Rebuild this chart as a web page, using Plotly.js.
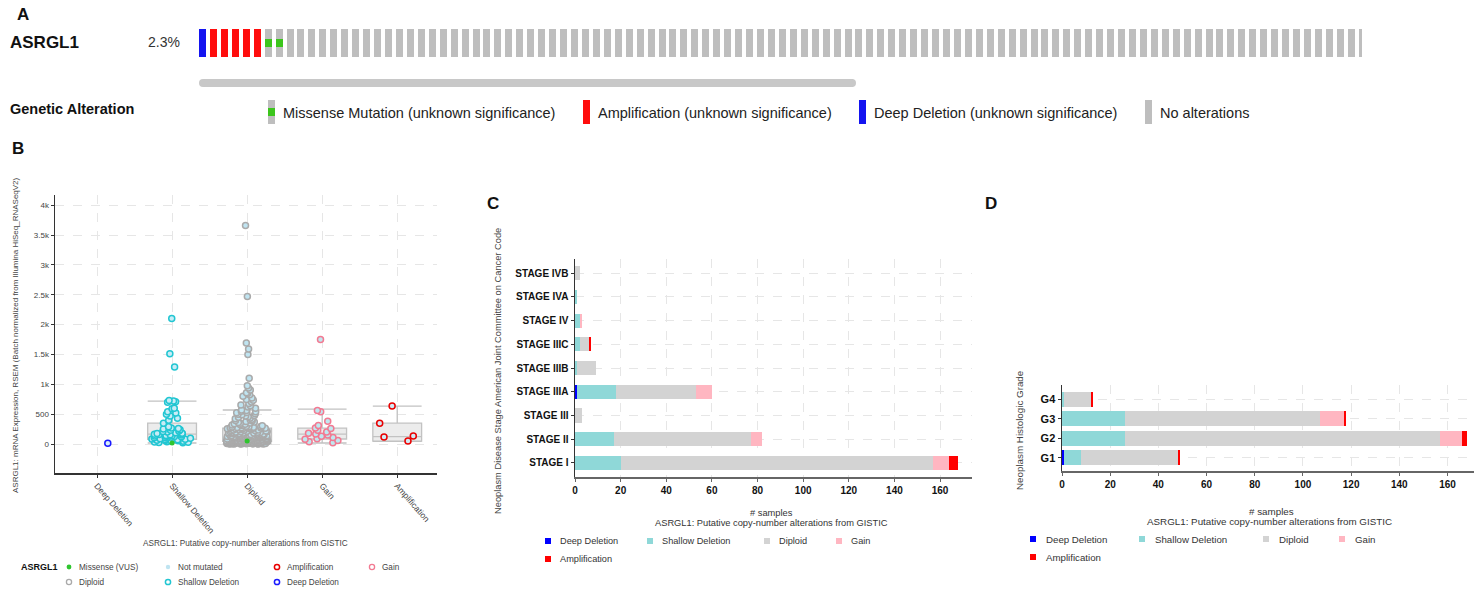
<!DOCTYPE html>
<html><head><meta charset="utf-8">
<script src="https://cdn.plot.ly/plotly-3.0.1.min.js"></script>
<style>html,body{margin:0;padding:0;background:#fff}#chart{width:1474px;height:592px}</style>
</head><body><div id="chart"></div>
<script>
// ================= DATA =================
// Panel A – oncoprint
const oncoGene = 'ASRGL1';
const oncoPct = '2.3%';
const oncoTypes = ['Deep Deletion', 'Amplification', 'Missense Mutation', 'No alterations'];
const oncoCounts = [1, 5, 2, 99];
const oncoLegendLabels = ['Missense Mutation (unknown significance)', 'Amplification (unknown significance)', 'Deep Deletion (unknown significance)', 'No alterations'];

// Panel B – expression by copy number
const cnaCats = ['Deep Deletion', 'Shallow Deletion', 'Diploid', 'Gain', 'Amplification'];
const exprDeep = [15];
const exprShallow = [2100, 1510, 1290, 730, 720, 710, 700, 600, 590, 540, 520, 500, 470, 430, 400,
  350, 290, 270, 260, 250, 240, 230, 220, 210, 200, 190, 180, 175, 170,
  165, 160, 155, 150, 145, 140, 135, 130, 125, 120, 115, 110, 105, 100, 95, 90, 85, 80, 75, 70,
  65, 60, 55, 50, 45, 40, 35, 30, 25, 20];
const exprDiploid = [3660, 2470, 1690, 1590, 1500, 1100, 975, 940, 905, 860, 845, 825, 800, 770, 745, 735, 705, 680, 655, 640, 620, 600,
  570, 563, 548, 541, 530, 522, 508, 497, 489, 476, 468, 455, 447, 438, 425, 416, 404, 396, 388, 379,
  367, 361, 352, 347, 339, 332, 324, 318, 311, 306, 299, 293, 288, 284, 281, 277, 274, 272, 270, 269, 267, 266, 265, 265,
  262, 258, 254, 249, 246, 241, 237, 233, 229, 226, 222, 218, 215, 211, 208, 204, 201, 198, 195, 192,
  189, 186, 183, 180, 178, 175, 172, 170, 167, 165, 162, 160, 158, 156, 154, 152, 150, 148, 146, 144,
  142, 140, 139, 137, 136, 134, 133, 131, 130, 129, 128, 127, 126, 125, 124, 123, 122, 121, 120, 120,
  119, 119, 118, 118, 117, 117,
  116, 115, 113, 112, 110, 109, 107, 106, 104, 103, 101, 100, 98, 97, 95, 94, 92, 91, 89, 88,
  86, 85, 83, 82, 81, 79, 78, 77, 75, 74, 73, 71, 70, 69, 68, 66, 65, 64, 63, 62,
  61, 60, 59, 58, 57, 56, 55, 55, 54, 53, 52, 52, 51, 50, 49, 49, 48, 48, 47, 47, 46, 46, 45, 45, 45,
  44, 44, 43, 43, 42, 41, 41, 40, 39, 39, 38, 37, 36, 36, 35, 34, 33, 33, 32, 31,
  30, 30, 29, 28, 27, 27, 26, 25, 24, 24, 23, 22, 21, 21, 20, 19, 18, 18, 17, 16,
  15, 15, 14, 13, 12, 12, 11, 10, 10, 9, 8, 8, 7, 6, 6, 5, 5, 4, 4, 3, 3, 2, 2, 1, 1];
const exprGain = [1750, 560, 540, 380, 310, 270, 260, 230, 200, 180, 170, 150, 130, 110, 90, 80, 60, 40, 20];
const exprAmp = [636, 350, 134, 117, 50];
const missenseCats = ['Shallow Deletion', 'Diploid'];
const missenseExpr = [17, 50];
const boxCats = ['Shallow Deletion', 'Diploid', 'Gain', 'Amplification'];
const boxLower = [17, 3, 17, 45];
const boxQ1 = [80, 45, 84, 50];
const boxMedian = [167, 117, 167, 125];
const boxQ3 = [350, 265, 268, 350];
const boxUpper = [720, 570, 585, 636];
const exprTickVals = [0, 500, 1000, 1500, 2000, 2500, 3000, 3500, 4000];
const exprTickText = ['0', '500', '1k', '1.5k', '2k', '2.5k', '3k', '3.5k', '4k'];
const legendBLabels = ['Missense (VUS)', 'Not mutated', 'Amplification', 'Gain', 'Diploid', 'Shallow Deletion', 'Deep Deletion'];

// Panel C – stage
const stageCats = ['STAGE I', 'STAGE II', 'STAGE III', 'STAGE IIIA', 'STAGE IIIB', 'STAGE IIIC', 'STAGE IV', 'STAGE IVA', 'STAGE IVB'];
const stageDeep =    [0, 0, 0, 1, 0, 0, 0, 0, 0];
const stageShallow = [20, 17, 0, 17, 1, 2, 2, 1, 0];
const stageDiploid = [137, 60, 3, 35, 8, 4, 0, 0, 2];
const stageGain =    [7, 5, 0, 7, 0, 0, 1, 0, 0];
const stageAmp =     [4, 0, 0, 0, 0, 1, 0, 0, 0];

// Panel D – grade
const gradeCats = ['G1', 'G2', 'G3', 'G4'];
const gradeDeep =    [1, 0, 0, 0];
const gradeShallow = [7, 26, 26, 1];
const gradeDiploid = [40, 131, 81, 11];
const gradeGain =    [0, 9, 10, 0];
const gradeAmp =     [1, 2, 1, 1];

const cnaTypes = ['Deep Deletion', 'Shallow Deletion', 'Diploid', 'Gain', 'Amplification'];
const xTicks = [0, 20, 40, 60, 80, 100, 120, 140, 160];

// ================= BUILD =================
const W = 1474, H = 592;
const F = 'Liberation Sans, Arial, sans-serif';
const px = x => x / W, py = y => 1 - y / H;
const barColors = {'Deep Deletion': '#0000ff', 'Shallow Deletion': '#8fd8d8', 'Diploid': '#d3d3d3', 'Gain': '#ffb6c1', 'Amplification': '#ff0000'};
const traces = [];

// Panel A
const oncoColor = {'Deep Deletion': '#1414f0', 'Amplification': '#ff0d0d', 'Missense Mutation': '#bebebe', 'No alterations': '#bebebe'};
const samples = [];
oncoTypes.forEach((t, i) => { for (let k = 0; k < oncoCounts[i]; k++) samples.push(t); });
const sIdx = samples.map((_, i) => i);
traces.push({type: 'bar', x: sIdx, y: samples.map(() => 1), base: samples.map(() => 0), width: 0.64,
  marker: {color: samples.map(t => oncoColor[t])}, xaxis: 'x', yaxis: 'y', hoverinfo: 'skip'});
const misIdx = sIdx.filter(i => samples[i] === 'Missense Mutation');
traces.push({type: 'bar', x: misIdx, y: misIdx.map(() => 0.29), base: misIdx.map(() => 0.36), width: 0.64,
  marker: {color: '#3cc51c'}, xaxis: 'x', yaxis: 'y', hoverinfo: 'skip'});

// Panel B boxes
traces.push({type: 'box', x: boxCats, q1: boxQ1, median: boxMedian, q3: boxQ3, lowerfence: boxLower, upperfence: boxUpper,
  width: 0.65, whiskerwidth: 1, fillcolor: '#ececec', line: {color: '#c2c2c2', width: 1.3}, boxpoints: false,
  xaxis: 'x2', yaxis: 'y2', hoverinfo: 'skip'});
function pts(cat, vals, ring, fill) {
  return {type: 'box', x: vals.map(() => cat), y: vals, boxpoints: 'all', jitter: 0.85, pointpos: 0, width: 0.65,
    fillcolor: 'rgba(0,0,0,0)', line: {width: 0, color: 'rgba(0,0,0,0)'},
    marker: {size: 6, color: fill, line: {color: ring, width: 1.5}}, xaxis: 'x2', yaxis: 'y2', hoverinfo: 'skip'};
}
traces.push(pts('Deep Deletion', exprDeep, '#1a1aff', '#d6eef8'));
traces.push(pts('Shallow Deletion', exprShallow, '#22c6d2', '#c9ecf6'));
traces.push(pts('Diploid', exprDiploid, '#aaaaaa', '#bfe4f1'));
traces.push(pts('Gain', exprGain, '#f27a92', '#bfe8f0'));
traces.push(pts('Amplification', exprAmp, '#e80000', '#d0eaf5'));
traces.push({type: 'scatter', mode: 'markers', x: missenseCats, y: missenseExpr, marker: {size: 5, color: '#2fc52f'},
  xaxis: 'x2', yaxis: 'y2', hoverinfo: 'skip'});

// Panel C
const stageVals = [stageDeep, stageShallow, stageDiploid, stageGain, stageAmp];
cnaTypes.forEach((t, i) => traces.push({type: 'bar', orientation: 'h', y: stageCats, x: stageVals[i], width: 0.6,
  marker: {color: barColors[t]}, xaxis: 'x3', yaxis: 'y3', hoverinfo: 'skip'}));
// Panel D
const gradeVals = [gradeDeep, gradeShallow, gradeDiploid, gradeGain, gradeAmp];
cnaTypes.forEach((t, i) => traces.push({type: 'bar', orientation: 'h', y: gradeCats, x: gradeVals[i], width: 0.77,
  marker: {color: barColors[t]}, xaxis: 'x4', yaxis: 'y4', hoverinfo: 'skip'}));

// Annotations & shapes
const annotations = [];
function ann(text, x, y, size, opts) {
  annotations.push(Object.assign({text: text, x: px(x), y: py(y), xref: 'paper', yref: 'paper', showarrow: false,
    xanchor: 'left', yanchor: 'middle', borderpad: 0, font: {family: F, size: size, color: '#222'}}, opts || {}));
}
const shapes = [];
function rect(x0, y0, x1, y1, fill) {
  shapes.push({type: 'rect', xref: 'paper', yref: 'paper', x0: px(x0), x1: px(x1), y0: py(y1), y1: py(y0),
    fillcolor: fill, line: {width: 0}, layer: 'above'});
}
function circ(cx, cy, r, fill, stroke, sw) {
  shapes.push({type: 'circle', xref: 'paper', yref: 'paper', x0: px(cx - r), x1: px(cx + r), y0: py(cy + r), y1: py(cy - r),
    fillcolor: fill, line: {color: stroke, width: sw}, layer: 'above'});
}
const bold = (s, c) => ({family: F, size: s, color: c || '#111', weight: 700});

// A texts
ann('A', 16, 14, 17, {font: bold(17)});
ann(oncoGene, 9, 42, 17, {font: bold(17)});
ann(oncoPct, 147, 42, 14, {font: {family: F, size: 14, color: '#333'}});
ann('Genetic Alteration', 9, 109, 14.5, {font: bold(14.5)});
// scrollbar
rect(203, 79, 853, 87, '#c8c8c8');
circ(203, 83, 4, '#c8c8c8', '#c8c8c8', 0);
circ(852, 83, 4, '#c8c8c8', '#c8c8c8', 0);
// A legend
const legAX = [268, 583, 859, 1145];
const legAColors = ['#bebebe', '#ff0d0d', '#1414f0', '#bebebe'];
oncoLegendLabels.forEach((l, i) => {
  rect(legAX[i], 100, legAX[i] + 7, 124, legAColors[i]);
  ann(l, legAX[i] + 14, 113, 14.5, {font: {family: F, size: 14.5, color: '#222'}});
});
rect(268, 108, 275, 116, '#3cc51c');

// B texts
ann('B', 11, 148, 17, {font: bold(17)});
ann('ASRGL1: mRNA Expression, RSEM (Batch normalized from Illumina HiSeq_RNASeqV2)', 15, 335, 8,
  {textangle: -90, xanchor: 'center', font: {family: F, size: 8, color: '#444'}});
ann('ASRGL1: Putative copy-number alterations from GISTIC', 246, 543, 8.2,
  {xanchor: 'center', font: {family: F, size: 8.2, color: '#444'}});
ann('ASRGL1', 20, 567, 9, {font: bold(9)});
const legBX = [69, 168, 277, 372, 69, 168, 277];
const legBY = [567, 567, 567, 567, 582, 582, 582];
const legBStyle = [['#2fc52f', '#2fc52f', 0, 2.4], ['#bfe4f1', '#bfe4f1', 0, 2.2], ['#ffffff', '#e80000', 1.5, 2.6], ['#ffffff', '#f27a92', 1.3, 2.6],
  ['#ffffff', '#aaaaaa', 1.3, 2.6], ['#ffffff', '#22c6d2', 1.5, 2.6], ['#ffffff', '#1a1aff', 1.5, 2.6]];
legendBLabels.forEach((l, i) => {
  const s = legBStyle[i];
  circ(legBX[i], legBY[i], s[3], s[0], s[1], s[2]);
  ann(l, legBX[i] + 9, legBY[i], 8.2, {font: {family: F, size: 8.2, color: '#444'}});
});

// C texts
ann('C', 486, 203, 17, {font: bold(17)});
ann('Neoplasm Disease Stage American Joint Committee on Cancer Code', 498, 371, 9.3,
  {textangle: -90, xanchor: 'center', font: {family: F, size: 9.3, color: '#444'}});
ann('# samples', 772, 513, 9.3, {xanchor: 'center', font: {family: F, size: 9.3, color: '#333'}});
ann('ASRGL1: Putative copy-number alterations from GISTIC', 771, 523, 9.3, {xanchor: 'center', font: {family: F, size: 9.3, color: '#333'}});
const legCX = [548, 650, 767, 839, 548];
const legCY = [541, 541, 541, 541, 559];
cnaTypes.forEach((t, i) => {
  rect(legCX[i] - 3, legCY[i] - 3, legCX[i] + 3, legCY[i] + 3, barColors[t]);
  ann(t, legCX[i] + 11, legCY[i], 9.2, {font: {family: F, size: 9.2, color: '#333'}});
});
// D texts
ann('D', 984, 203, 17, {font: bold(17)});
ann('Neoplasm Histologic Grade', 1019, 430, 9.8,
  {textangle: -90, xanchor: 'center', font: {family: F, size: 9.8, color: '#444'}});
ann('# samples', 1271, 511, 9.8, {xanchor: 'center', font: {family: F, size: 9.8, color: '#333'}});
ann('ASRGL1: Putative copy-number alterations from GISTIC', 1269, 521, 9.8, {xanchor: 'center', font: {family: F, size: 9.8, color: '#333'}});
const legDX = [1033, 1142, 1266, 1342, 1033];
const legDY = [539, 539, 539, 539, 557];
cnaTypes.forEach((t, i) => {
  rect(legDX[i] - 3, legDY[i] - 3, legDX[i] + 3, legDY[i] + 3, barColors[t]);
  ann(t, legDX[i] + 12, legDY[i], 9.7, {font: {family: F, size: 9.7, color: '#333'}});
});

const grid = {showgrid: true, gridcolor: '#e6e6e6', griddash: 'dash', gridwidth: 1, zeroline: false};
const layout = {
  width: W, height: H, margin: {l: 0, r: 0, t: 0, b: 0}, paper_bgcolor: '#ffffff', plot_bgcolor: 'rgba(0,0,0,0)',
  showlegend: false, barmode: 'stack', boxmode: 'overlay', hovermode: false, font: {family: F},
  xaxis: {domain: [px(199), px(1362)], range: [-0.32, 105.98], visible: false, anchor: 'y'},
  yaxis: {domain: [py(57), py(29)], range: [0, 1], visible: false, anchor: 'x'},
  xaxis2: Object.assign({domain: [px(55), px(437)], anchor: 'y2', type: 'category', categoryorder: 'array', categoryarray: cnaCats,
    range: [-0.56, 4.53], showline: true, linecolor: '#333', linewidth: 1.5, ticks: 'outside', ticklen: 3, tickcolor: '#333',
    tickangle: 49, tickfont: {family: F, size: 8.5, color: '#444'}}, grid),
  yaxis2: Object.assign({domain: [py(473), py(195)], anchor: 'x2', range: [-485, 4170], tickmode: 'array', tickvals: exprTickVals, ticktext: exprTickText,
    showline: true, linecolor: '#333', linewidth: 1.5, ticks: 'outside', ticklen: 3, tickcolor: '#333',
    tickfont: {family: F, size: 8, color: '#444'}}, grid),
  xaxis3: Object.assign({domain: [px(575), px(972)], anchor: 'y3', range: [0, 174], tickmode: 'array', tickvals: xTicks,
    showline: true, linecolor: '#666', linewidth: 2, ticks: 'outside', ticklen: 3, tickcolor: '#666',
    tickfont: bold(10)}, grid),
  yaxis3: Object.assign({domain: [py(477), py(259)], anchor: 'x3', type: 'category', categoryorder: 'array', categoryarray: stageCats,
    range: [-0.6, 8.6], showline: true, linecolor: '#333', linewidth: 1.5, ticks: 'outside', ticklen: 3, tickcolor: '#333',
    tickfont: bold(10)}, grid),
  xaxis4: Object.assign({domain: [px(1062), 1], anchor: 'y4', range: [0, 171], tickmode: 'array', tickvals: xTicks,
    showline: true, linecolor: '#666', linewidth: 2, ticks: 'outside', ticklen: 3, tickcolor: '#666',
    tickfont: bold(10)}, grid),
  yaxis4: Object.assign({domain: [py(471), py(385)], anchor: 'x4', type: 'category', categoryorder: 'array', categoryarray: gradeCats,
    range: [-0.67, 3.72], showline: true, linecolor: '#333', linewidth: 1.5, ticks: 'outside', ticklen: 3, tickcolor: '#333',
    tickfont: bold(11)}, grid),
  annotations: annotations, shapes: shapes
};
Plotly.newPlot('chart', traces, layout, {displayModeBar: false, staticPlot: true});
</script></body></html>
